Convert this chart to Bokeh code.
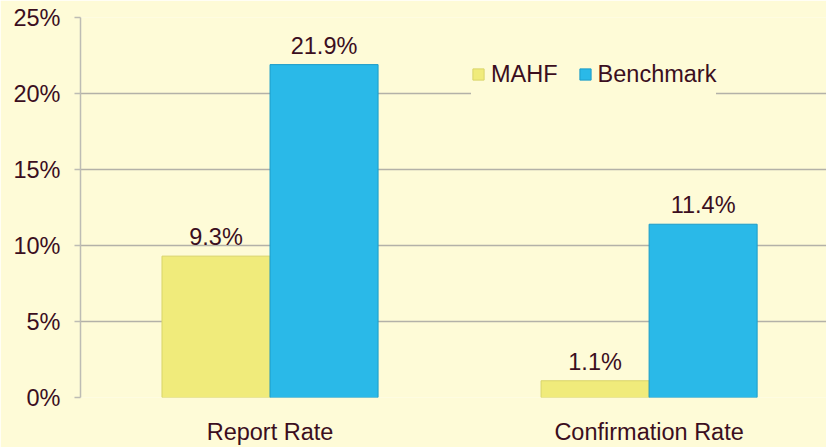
from bokeh.plotting import figure
from bokeh.models import ColumnDataSource, FixedTicker, PrintfTickFormatter, Legend, LegendItem
from bokeh.transform import dodge
from bokeh.core.properties import value
from bokeh.embed import file_html
from bokeh.resources import INLINE

categories = ["Report Rate", "Confirmation Rate"]
cat_pos = [0.5, 1.5]
mahf = [9.3, 1.1]
benchmark = [21.9, 11.4]
y_ticks = [0, 5, 10, 15, 20, 25]

BG = "#FEFBD7"
TXT = "#3B0E1E"
FONT = "Liberation Sans"
FS = "23.5px"

src = ColumnDataSource(dict(
    x=cat_pos,
    mahf=mahf,
    bench=benchmark,
    mahf_lbl=[f"{v:.1f}%" for v in mahf],
    bench_lbl=[f"{v:.1f}%" for v in benchmark],
))

p = figure(width=826, height=447, x_range=(0, 1.968), y_range=(0, 25),
           output_backend="svg", toolbar_location=None,
           min_border_left=80, min_border_right=0, min_border_top=17, min_border_bottom=49)
p.background_fill_color = BG
p.border_fill_color = BG
p.outline_line_color = None

bw = 0.285
r1 = p.vbar(x=dodge("x", -bw / 2, range=p.x_range), top="mahf", width=bw, source=src,
            fill_color="#F0EB7B", line_color="#D9D46A", line_width=1)
r2 = p.vbar(x=dodge("x", bw / 2, range=p.x_range), top="bench", width=bw, source=src,
            fill_color="#2AB9E8", line_color="#1C9CC8", line_width=1)

p.text(x=dodge("x", -bw / 2, range=p.x_range), y="mahf", text="mahf_lbl", source=src,
       text_align="center", text_baseline="bottom", y_offset=-6,
       text_font=value(FONT), text_font_size=value(FS), text_color=TXT)
p.text(x=dodge("x", bw / 2, range=p.x_range), y="bench", text="bench_lbl", source=src,
       text_align="center", text_baseline="bottom", y_offset=-6,
       text_font=value(FONT), text_font_size=value(FS), text_color=TXT)

# axes
p.yaxis.ticker = FixedTicker(ticks=y_ticks)
p.yaxis.formatter = PrintfTickFormatter(format="%d%%")
p.yaxis.major_label_text_font = FONT
p.yaxis.major_label_text_font_size = FS
p.yaxis.major_label_text_color = TXT
p.yaxis.major_label_standoff = 14
p.yaxis.axis_line_color = "#BDBCB4"
p.yaxis.axis_line_width = 1.5
p.yaxis.major_tick_line_color = "#BDBCB4"
p.yaxis.major_tick_line_width = 1.3
p.yaxis.major_tick_out = 6
p.yaxis.major_tick_in = 0
p.yaxis.minor_tick_line_color = None

p.xaxis.ticker = FixedTicker(ticks=cat_pos)
p.xaxis.major_label_overrides = {cat_pos[i]: categories[i] for i in range(len(categories))}
p.xaxis.major_label_text_font = FONT
p.xaxis.major_label_text_font_size = FS
p.xaxis.major_label_text_color = TXT
p.xaxis.major_label_standoff = 15
p.xaxis.axis_line_color = None
p.xaxis.major_tick_line_color = None
p.xaxis.minor_tick_line_color = None

p.xgrid.grid_line_color = None
p.ygrid.grid_line_color = "#B3B1A8"
p.ygrid.grid_line_width = 1.3

legend = Legend(items=[LegendItem(label="MAHF", renderers=[r1]),
                       LegendItem(label="Benchmark", renderers=[r2])],
                orientation="horizontal", location=(391, 300))
legend.background_fill_color = BG
legend.background_fill_alpha = 1
legend.border_line_color = None
legend.label_text_font = FONT
legend.label_text_font_size = FS
legend.label_text_color = TXT
legend.glyph_width = 14
legend.glyph_height = 14
legend.label_height = 46
legend.label_standoff = 6
legend.spacing = 20
legend.padding = 16
legend.margin = 0
p.add_layout(legend)

open("out.html", "w").write(file_html(p, INLINE))
